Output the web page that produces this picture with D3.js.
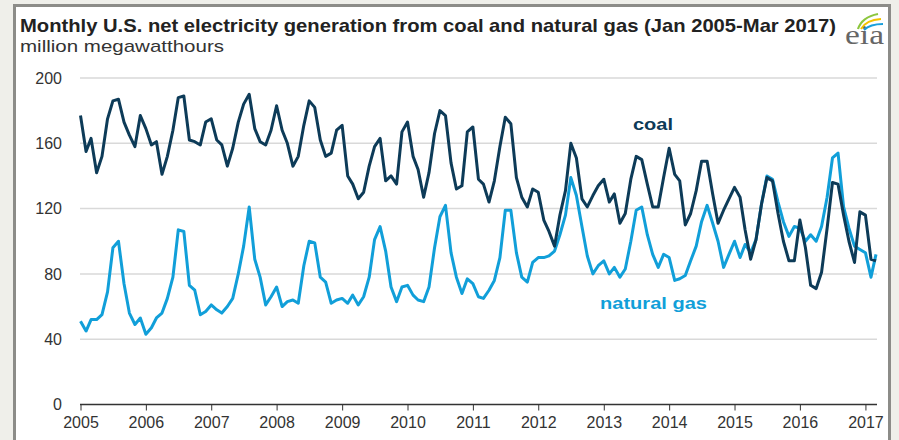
<!DOCTYPE html>
<html><head><meta charset="utf-8">
<script src="https://cdn.jsdelivr.net/npm/d3@7"></script>
<style>
body{margin:0;background:#efefea;overflow:hidden;}
svg{display:block;font-family:"Liberation Sans",Arial,Helvetica,sans-serif;}
</style>
</head><body>
<svg id="chart" width="899" height="440"></svg>
<script>
// ---- data (million megawatthours), monthly Jan 2005 - Mar 2017 ----
const startYear = 2005;
const coal = [
177,155,163,142,152,175,186,187,173,165,158,177,
169,159,161,141,152,168,188,189,162,161,159,173,
175,162,159,146,157,173,184,190,169,161,159,168,
183,168,160,146,152,171,186,182,162,152,154,168,
171,140,135,126,130,146,158,163,137,140,135,167,
173,152,144,127,142,166,180,177,148,132,134,167,
170,138,135,124,137,158,176,172,139,127,121,132,
130,113,106,97,116,131,160,151,126,121,128,134,
138,124,129,111,117,138,152,150,135,121,121,139,
157,141,137,110,117,131,149,149,129,111,119,126,
133,127,107,89,101,123,139,137,117,100,88,88,
113,96,73,71,81,108,136,135,116,100,87,118,
116,89,88
];
const gas = [
51,45,52,52,55,69,96,100,74,56,49,53,
43,47,53,56,65,78,107,106,73,70,55,57,
61,58,56,60,65,80,97,121,89,78,61,66,
72,60,63,64,62,85,100,99,78,75,62,64,
65,62,67,61,66,78,101,109,94,72,63,72,
73,67,64,63,72,96,115,122,93,78,68,77,
74,66,65,70,76,90,119,119,93,78,75,87,
90,90,91,94,104,116,139,128,109,91,80,85,
88,80,84,78,83,100,119,121,104,92,84,92,
90,76,77,79,88,97,112,122,111,100,84,92,
100,90,98,93,101,123,140,138,124,112,103,109,
108,100,104,100,109,127,151,154,121,108,97,95,
93,78,92
];
const yTicks = [0,40,80,120,160,200];
const xTickYears = [2005,2006,2007,2008,2009,2010,2011,2012,2013,2014,2015,2016,2017];
const title = "Monthly U.S. net electricity generation from coal and natural gas (Jan 2005-Mar 2017)";
const subtitle = "million megawatthours";
const seriesLabels = ["coal","natural gas"];
const colors = {coal:"#0d3b58", gas:"#119fd9"};

const dates = coal.map((_,i)=>new Date(startYear, i, 1));

const svg = d3.select("#chart");

// frame
svg.append("rect").attr("x",0).attr("y",0).attr("width",899).attr("height",440).attr("fill","#efefea");
svg.append("rect").attr("x",14.5).attr("y",5.5).attr("width",875).attr("height",460)
  .attr("fill","#ffffff").attr("stroke","#8c8c88").attr("stroke-width",3);

const x = d3.scaleTime()
  .domain([new Date(2005,0,1), new Date(2017,2,1)])
  .range([80.5, 876]);
const y = d3.scaleLinear().domain([0,200]).range([404.5, 78]);

// title
svg.append("text").attr("x",20).attr("y",32)
  .attr("font-size",19).attr("font-weight","bold").attr("fill","#222")
  .attr("textLength",816).attr("lengthAdjust","spacingAndGlyphs").text(title);
svg.append("text").attr("x",20).attr("y",52)
  .attr("font-size",17).attr("fill","#333")
  .attr("textLength",204).attr("lengthAdjust","spacingAndGlyphs").text(subtitle);

// eia logo
const logo = svg.append("g");
logo.append("text").attr("x",845).attr("y",44).attr("font-family","'Liberation Serif','DejaVu Serif',serif")
  .attr("font-size",27).attr("fill","#666").attr("textLength",39).attr("lengthAdjust","spacingAndGlyphs").text("eia");
logo.append("path").attr("d","M858,29 Q862,17 878,14").attr("fill","none").attr("stroke","#8cc63e").attr("stroke-width",2.2);
logo.append("path").attr("d","M861,29 Q866,20 881,19").attr("fill","none").attr("stroke","#f2c200").attr("stroke-width",2);
logo.append("path").attr("d","M864,30 Q870,24 883,24").attr("fill","none").attr("stroke","#1a9fdb").attr("stroke-width",2);

// gridlines
svg.append("g").selectAll("line").data(yTicks.filter(d=>d>0)).join("line")
  .attr("x1",80).attr("x2",877).attr("y1",d=>y(d)).attr("y2",d=>y(d))
  .attr("stroke","#d9d9d9").attr("stroke-width",1.5);

// y axis labels
const yAxis = d3.axisLeft(y).tickValues(yTicks).tickSize(0).tickPadding(0).tickFormat(d3.format("d"));
const gy = svg.append("g").attr("transform","translate(62,0)").call(yAxis);
gy.select(".domain").remove();
gy.selectAll("text").attr("font-size",16).attr("fill","#333").attr("font-family","'Liberation Sans',Arial,sans-serif");

// x axis
const xAxis = d3.axisBottom(x)
  .tickValues(xTickYears.map(yy=>new Date(yy,0,1)))
  .tickFormat(d3.timeFormat("%Y")).tickSize(6).tickSizeOuter(0).tickPadding(6);
const gx = svg.append("g").attr("transform",`translate(0,${y(0)})`).call(xAxis);
gx.select(".domain").attr("stroke","#333").attr("stroke-width",1.5).attr("d","M80,0H877");
gx.selectAll(".tick line").attr("stroke","#333").attr("stroke-width",1);
gx.selectAll("text").attr("font-size",16).attr("fill","#333").attr("font-family","'Liberation Sans',Arial,sans-serif");

// lines
const line = d3.line().x((d,i)=>x(dates[i])).y(d=>y(d)).curve(d3.curveLinear);
svg.append("path").datum(gas).attr("d",line).attr("fill","none")
  .attr("stroke",colors.gas).attr("stroke-width",3).attr("stroke-linejoin","round");
svg.append("path").datum(coal).attr("d",line).attr("fill","none")
  .attr("stroke",colors.coal).attr("stroke-width",3).attr("stroke-linejoin","round");

// series labels
svg.append("text").attr("x",633).attr("y",130)
  .attr("font-size",17).attr("font-weight","bold").attr("fill",colors.coal)
  .attr("textLength",40).attr("lengthAdjust","spacingAndGlyphs").text(seriesLabels[0]);
svg.append("text").attr("x",600).attr("y",309)
  .attr("font-size",17).attr("font-weight","bold").attr("fill",colors.gas)
  .attr("textLength",107).attr("lengthAdjust","spacingAndGlyphs").text(seriesLabels[1]);
</script>
</body></html>
